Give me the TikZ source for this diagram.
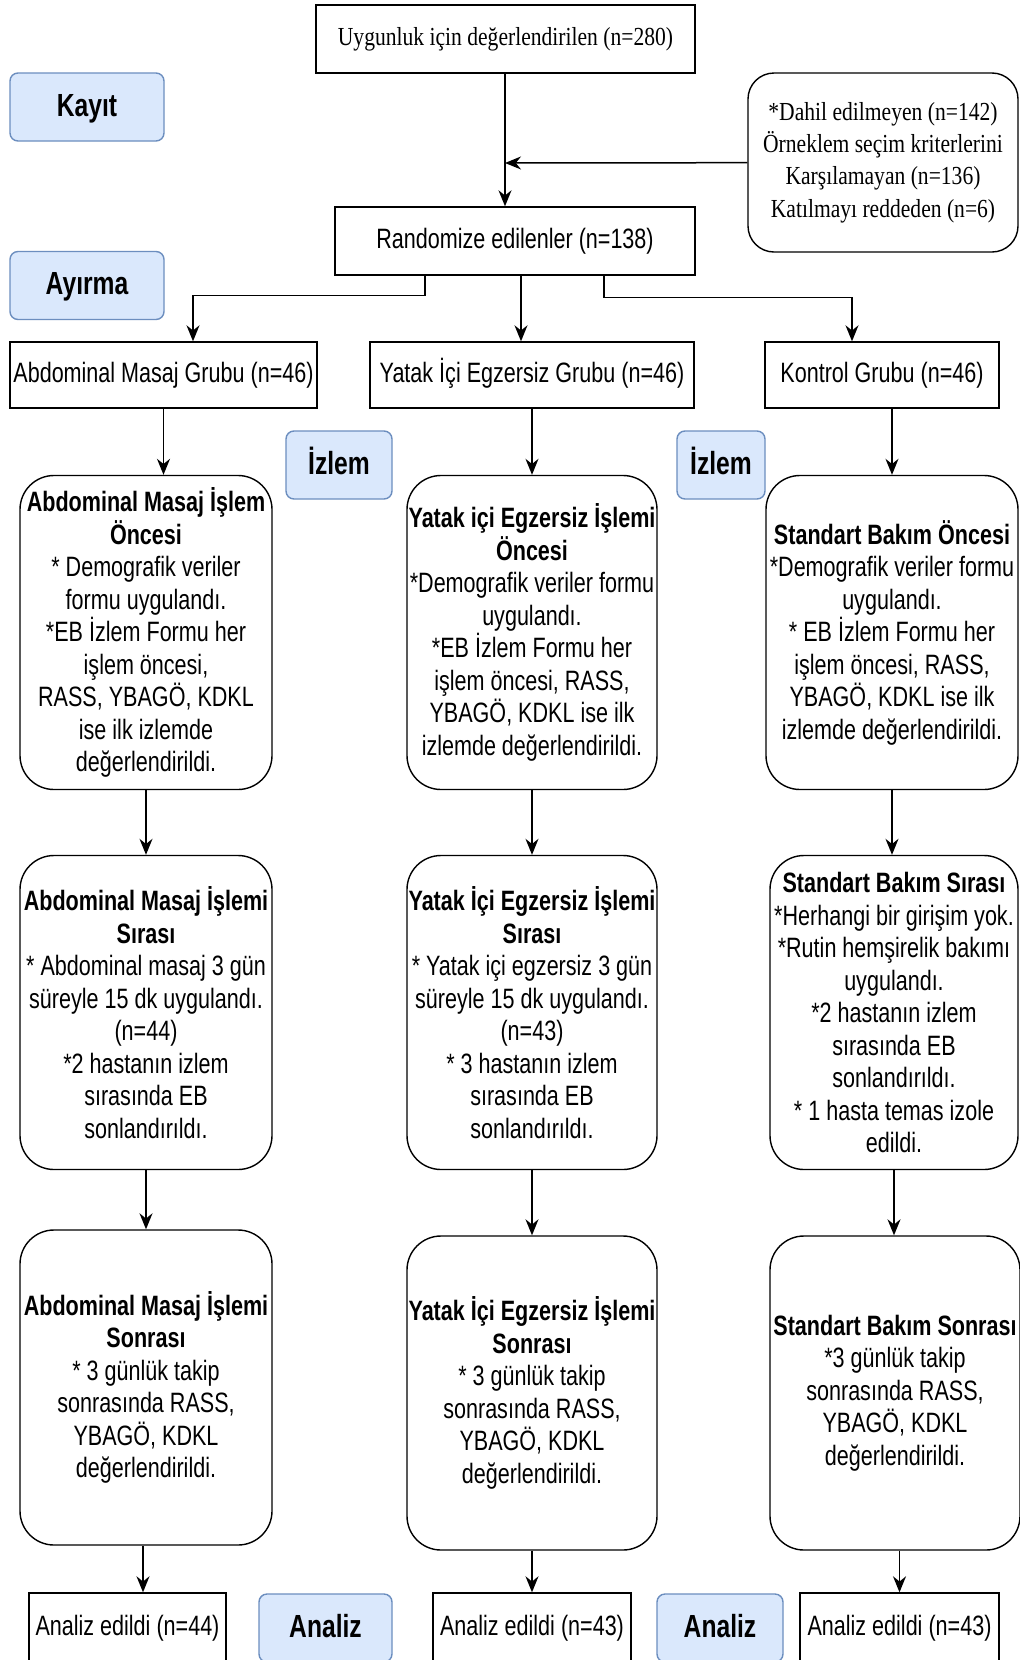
\documentclass[tikz,border=0pt]{standalone}
\usepackage{fontspec}
\setmainfont{Liberation Sans}[FakeStretch=0.77]
\newfontfamily\timesnarrow{Liberation Serif}[FakeStretch=0.83]
\usetikzlibrary{arrows.meta, positioning}
\definecolor{phasefill}{HTML}{DAE8FC}
\definecolor{phaseline}{HTML}{6C8EBF}

\begin{document}
\begin{tikzpicture}[x=1pt, y=-1pt,
    box/.style={draw, line width=1.4pt, align=center, inner sep=0pt, font=\fontsize{28}{32.5}\selectfont},
    linebox/.style={box, text height=21pt, text depth=6pt},
    serifbox/.style={box, font=\timesnarrow\fontsize{26}{32.3}\selectfont},
    stage/.style={box, rounded corners=34pt, minimum height=314pt},
    phase/.style={draw=phaseline, fill=phasefill, line width=1.4pt, rounded corners=8pt, inner sep=0pt, minimum height=68pt, text height=23pt, text depth=5pt, font=\bfseries\fontsize{32}{36}\selectfont},
    arr/.style={-{Stealth[length=16pt, width=13pt]}, line width=1.5pt}]
                        \clip (0,0) rectangle (1020,1660);
                        \fill[white] (0,0) rectangle (1020,1660);
                        \node[serifbox, minimum width=379pt, minimum height=68pt] (elig) at (505.5, 39) {Uygunluk için değerlendirilen (n=280)};
                        \node[serifbox, rounded corners=26pt, minimum width=270pt, minimum height=179pt] (excl) at (883, 162.5) {*Dahil edilmeyen (n=142)\\Örneklem seçim kriterlerini\\Karşılamayan (n=136)\\Katılmayı reddeden (n=6)};
                        \node[linebox, minimum width=360pt, minimum height=68pt] (rand) at (515, 241) {Randomize edilenler (n=138)};
                        \node[phase, minimum width=154pt] (kayit) at (87, 107) {Kayıt};
                        \node[phase, minimum width=154pt] (ayirma) at (87, 285.5) {Ayırma};
                        \node[linebox, minimum width=307pt, minimum height=66pt] (grp1) at (163.5, 375) {Abdominal Masaj Grubu (n=46)};
                        \node[linebox, minimum width=324pt, minimum height=66pt] (grp2) at (532, 375) {Yatak İçi Egzersiz Grubu (n=46)};
                        \node[linebox, minimum width=234pt, minimum height=66pt] (grp3) at (882, 375) {Kontrol Grubu (n=46)};
                        \node[phase, minimum width=106pt] (izlem1) at (339, 465) {İzlem};
                        \node[phase, minimum width=88pt] (izlem2) at (721, 465) {İzlem};
                        \node[stage, minimum width=252pt] (pre1) at (146, 632.5) {\textbf{Abdominal Masaj İşlem}\\\textbf{Öncesi}\\* Demografik veriler\\formu uygulandı.\\*EB İzlem Formu her\\işlem öncesi,\\RASS, YBAGÖ, KDKL\\ise ilk izlemde\\değerlendirildi.};
                        \node[stage, minimum width=250pt] (pre2) at (532, 632.5) {\textbf{Yatak içi Egzersiz İşlemi}\\\textbf{Öncesi}\\*Demografik veriler formu\\uygulandı.\\*EB İzlem Formu her\\işlem öncesi, RASS,\\YBAGÖ, KDKL ise ilk\\izlemde değerlendirildi.};
                        \node[stage, minimum width=252pt] (pre3) at (892, 632.5) {\textbf{Standart Bakım Öncesi}\\*Demografik veriler formu\\uygulandı.\\* EB İzlem Formu her\\işlem öncesi, RASS,\\YBAGÖ, KDKL ise ilk\\izlemde değerlendirildi.};
                        \node[stage, minimum width=252pt] (dur1) at (146, 1012.5) {\textbf{Abdominal Masaj İşlemi}\\\textbf{Sırası}\\* Abdominal masaj 3 gün\\süreyle 15 dk uygulandı.\\(n=44)\\*2 hastanın izlem\\sırasında EB\\sonlandırıldı.};
                        \node[stage, minimum width=250pt] (dur2) at (532, 1012.5) {\textbf{Yatak İçi Egzersiz İşlemi}\\\textbf{Sırası}\\* Yatak içi egzersiz 3 gün\\süreyle 15 dk uygulandı.\\(n=43)\\* 3 hastanın izlem\\sırasında EB\\sonlandırıldı.};
                        \node[stage, minimum width=248pt] (dur3) at (894, 1012.5) {\textbf{Standart Bakım Sırası}\\*Herhangi bir girişim yok.\\*Rutin hemşirelik bakımı\\uygulandı.\\*2 hastanın izlem\\sırasında EB\\sonlandırıldı.\\* 1 hasta temas izole\\edildi.};
                        \node[stage, minimum width=252pt, minimum height=315pt] (post1) at (146, 1387.5) {\textbf{Abdominal Masaj İşlemi}\\\textbf{Sonrası}\\* 3 günlük takip\\sonrasında RASS,\\YBAGÖ, KDKL\\değerlendirildi.};
                        \node[stage, minimum width=250pt] (post2) at (532, 1393) {\textbf{Yatak İçi Egzersiz İşlemi}\\\textbf{Sonrası}\\* 3 günlük takip\\sonrasında RASS,\\YBAGÖ, KDKL\\değerlendirildi.};
                        \node[stage, minimum width=250pt] (post3) at (895, 1393) {\textbf{Standart Bakım Sonrası}\\*3 günlük takip\\sonrasında RASS,\\YBAGÖ, KDKL\\değerlendirildi.};
                        \node[linebox, minimum width=197pt, minimum height=69pt] (ana1) at (127.5, 1627.5) {Analiz edildi (n=44)};
                        \node[linebox, minimum width=198pt, minimum height=69pt] (ana2) at (532, 1627.5) {Analiz edildi (n=43)};
                        \node[linebox, minimum width=199pt, minimum height=69pt] (ana3) at (899.5, 1627.5) {Analiz edildi (n=43)};
                        \node[phase, minimum width=133pt] (analiz1) at (325.5, 1628) {Analiz};
                        \node[phase, minimum width=126pt] (analiz2) at (720, 1628) {Analiz};
                        \coordinate (join) at (505, 163);
                        \draw[arr] (elig.south -| join) -- (rand.north -| join);
                        \draw[arr] (excl) -- (join);
                        \draw[arr] ([xshift=-90pt]rand.south) -- ++(0,20) -| ([xshift=29.5pt]grp1.north);
                        \draw[arr] ([xshift=6pt]rand.south) -- ([xshift=-11pt]grp2.north);
                        \draw[arr] ([xshift=89pt]rand.south) -- ++(0,22) -| ([xshift=-30pt]grp3.north);
                        \draw[arr] (grp1) -- (grp1 |- pre1.north);
                        \draw[arr] (grp2) -- (pre2);
                        \draw[arr] (grp3.south -| pre3) -- (pre3);
                        \draw[arr] (pre1) -- (dur1);
                        \draw[arr] (pre2) -- (dur2);
                        \draw[arr] (pre3) -- (pre3 |- dur3.north);
                        \draw[arr] (dur1) -- (post1);
                        \draw[arr] (dur2) -- (post2);
                        \draw[arr] (dur3) -- (dur3 |- post3.north);
                        \draw[arr] ([xshift=-3pt]post1.south) -- ([xshift=-3pt]post1.south |- ana1.north);
                        \draw[arr] (post2) -- (ana2);
                        \draw[arr] (post3.south -| ana3) -- (ana3);
                    \end{tikzpicture}
\end{document}
